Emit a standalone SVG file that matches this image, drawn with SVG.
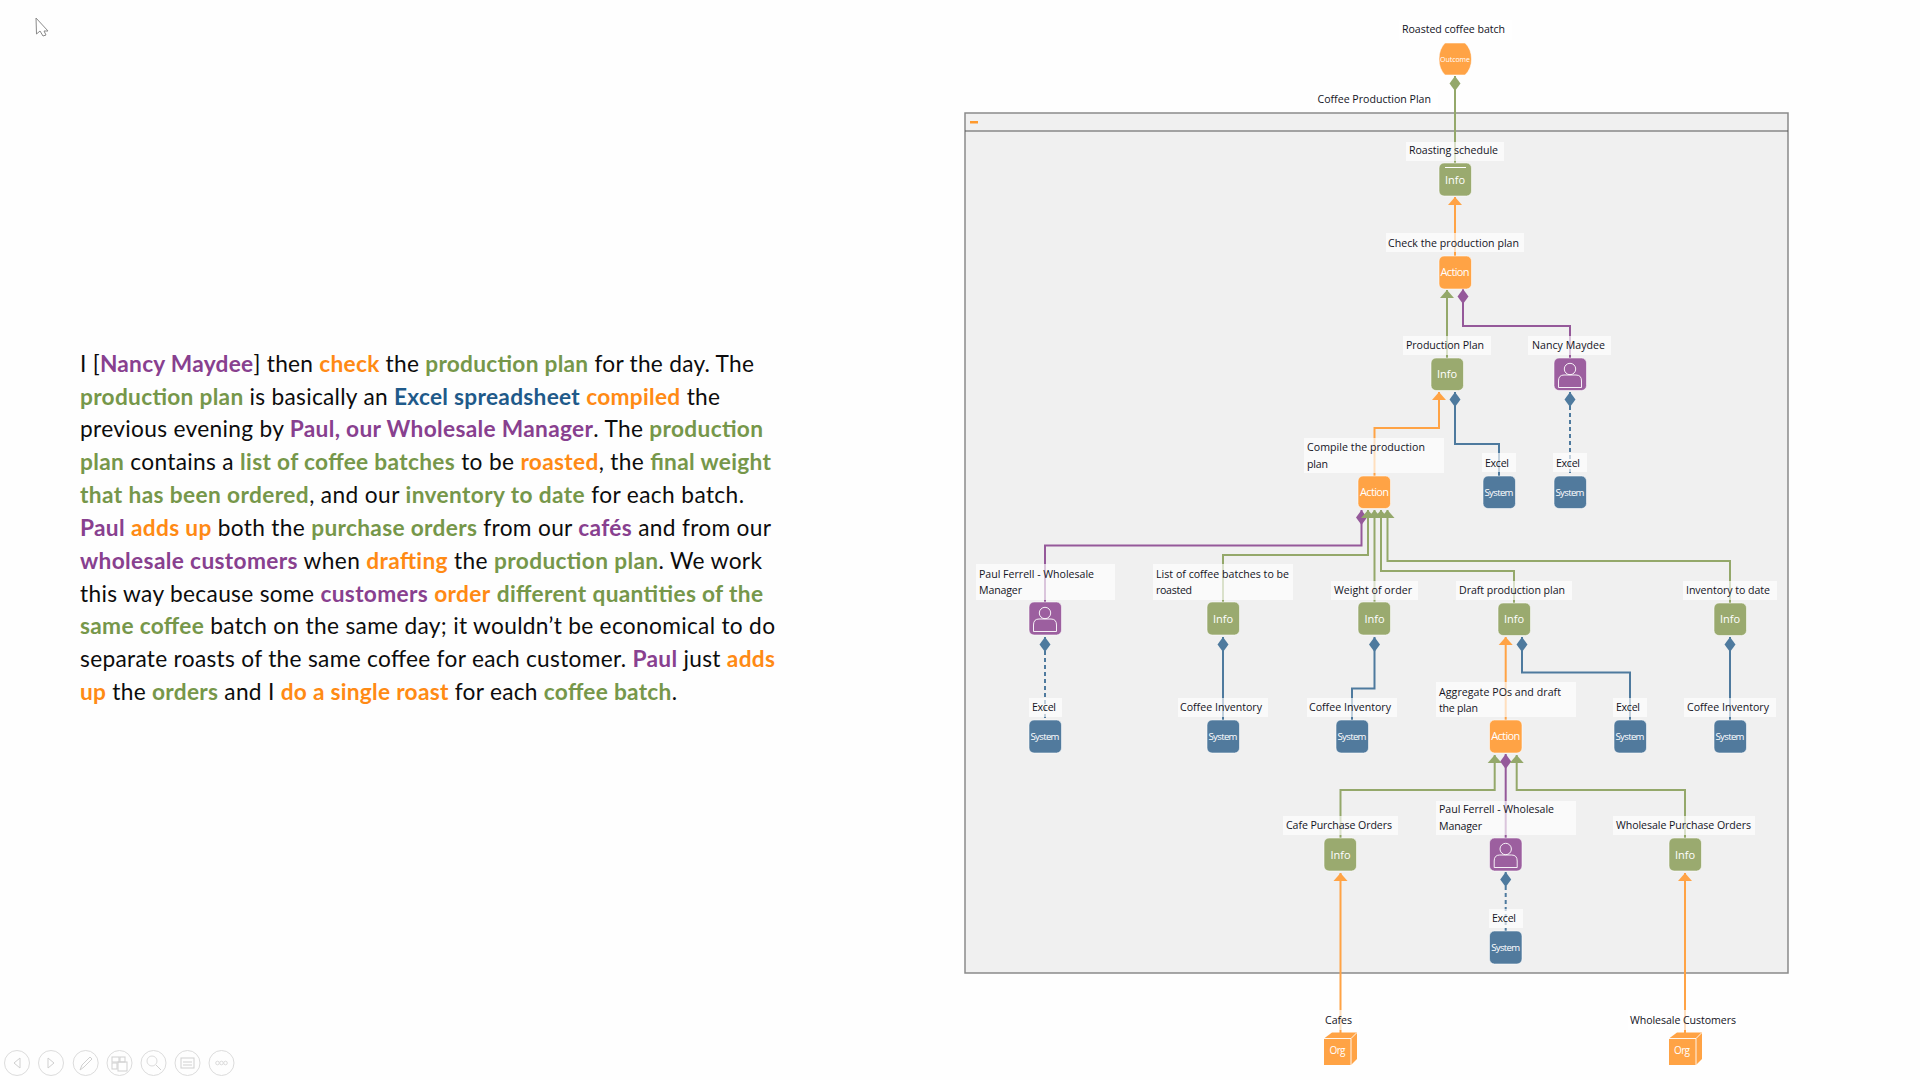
<svg xmlns="http://www.w3.org/2000/svg" width="1920" height="1080" viewBox="0 0 1920 1080">
<style>
.p{font-family:Lato,"Open Sans","Liberation Sans",sans-serif;font-size:22.7px;fill:#0c0c0c}
.p tspan{font-weight:700}
.or{fill:#FF8A14}.gr{fill:#76974A}.pu{fill:#88408F}.bl{fill:#1F5A8A}
.lb{fill:#fff;fill-opacity:.65}
.t{font-family:"Open Sans","Noto Sans","Liberation Sans",sans-serif;font-size:10.6px;fill:#14141e}
.n{font-family:"Open Sans","Noto Sans","Liberation Sans",sans-serif;font-size:11px;fill:#fff;text-anchor:middle}
.s{font-size:9.6px}.u{font-size:7px}.g{font-size:10px}
.box{stroke:#fff;stroke-opacity:.7;stroke-width:.8}
.A{fill:#FFA345}.I{fill:#9AAA6F}.P{fill:#9C5F9F}.S{fill:#517A9D}
.ic{fill:none;stroke:#fff;stroke-opacity:.9;stroke-width:1}
.c{fill:none;stroke-width:2}
.co{stroke:#FFA345}.cg{stroke:#94A86A}.cp{stroke:#95599A}.cb{stroke:#4E7A9E}
.d{stroke-dasharray:4 3}
.tb circle{fill:none;stroke:#dcdcdc;stroke-width:1}
.tb path,.tb rect{fill:none;stroke:#d0d0d0;stroke-width:1}
</style>
<defs>
<marker id="ao" markerUnits="userSpaceOnUse" orient="auto" markerWidth="10" markerHeight="16" refX="0" refY="8" viewBox="0 0 10 16"><path d="M0,8L8,1V15Z" fill="#FFA345"/></marker>
<marker id="ag" markerUnits="userSpaceOnUse" orient="auto" markerWidth="10" markerHeight="16" refX="0" refY="8" viewBox="0 0 10 16"><path d="M0,8L8,1V15Z" fill="#94A86A"/></marker>
<marker id="dg" markerUnits="userSpaceOnUse" orient="auto" markerWidth="16" markerHeight="12" refX="0" refY="6" viewBox="0 0 16 12"><path d="M0,6L7.500,.5L15,6L7.500,11.500Z" fill="#94A86A"/></marker>
<marker id="dp" markerUnits="userSpaceOnUse" orient="auto" markerWidth="16" markerHeight="12" refX="0" refY="6" viewBox="0 0 16 12"><path d="M0,6L7.500,.5L15,6L7.500,11.500Z" fill="#95599A"/></marker>
<marker id="db" markerUnits="userSpaceOnUse" orient="auto" markerWidth="16" markerHeight="12" refX="0" refY="6" viewBox="0 0 16 12"><path d="M0,6L7.500,.5L15,6L7.500,11.500Z" fill="#4E7A9E"/></marker>
</defs>
<rect width="1920" height="1080" fill="#fefefe"/>
<path d="M36,18L48,31H44L46,35L43,36L40,31L36.500,34Z" fill="#fff" stroke="#8a8a8a" stroke-width="1"/>

<g id="narrative">
<text class="p" y="372" x="80" textLength="674">I [<tspan class="pu">Nancy Maydee</tspan>] then <tspan class="or">check</tspan> the <tspan class="gr">production plan</tspan> for the day. The</text>
<text class="p" y="404.800" x="80" textLength="640"><tspan class="gr">production plan</tspan> is basically an <tspan class="bl">Excel spreadsheet</tspan> <tspan class="or">compiled</tspan> the</text>
<text class="p" y="437.200" x="80" textLength="683">previous evening by <tspan class="pu">Paul, our Wholesale Manager</tspan>. The <tspan class="gr">production</tspan></text>
<text class="p" y="470.400" x="80" textLength="691"><tspan class="gr">plan</tspan> contains a <tspan class="gr">list of coffee batches</tspan> to be <tspan class="or">roasted</tspan>, the <tspan class="gr">final weight</tspan></text>
<text class="p" y="503.200" x="80" textLength="664"><tspan class="gr">that has been ordered</tspan>, and our <tspan class="gr">inventory to date</tspan> for each batch.</text>
<text class="p" y="535.600" x="80" textLength="691"><tspan class="pu">Paul</tspan> <tspan class="or">adds up</tspan> both the <tspan class="gr">purchase orders</tspan> from our <tspan class="pu">cafés</tspan> and from our</text>
<text class="p" y="568.500" x="80" textLength="682"><tspan class="pu">wholesale customers</tspan> when <tspan class="or">drafting</tspan> the <tspan class="gr">production plan</tspan>. We work</text>
<text class="p" y="601.600" x="80" textLength="683">this way because some <tspan class="pu">customers</tspan> <tspan class="or">order</tspan> <tspan class="gr">different quantities of the</tspan></text>
<text class="p" y="634.400" x="80" textLength="695"><tspan class="gr">same coffee</tspan> batch on the same day; it wouldn’t be economical to do</text>
<text class="p" y="667.200" x="80" textLength="695">separate roasts of the same coffee for each customer. <tspan class="pu">Paul</tspan> just <tspan class="or">adds</tspan></text>
<text class="p" y="700" x="80" textLength="597"><tspan class="or">up</tspan> the <tspan class="gr">orders</tspan> and I <tspan class="or">do a single roast</tspan> for each <tspan class="gr">coffee batch</tspan>.</text>
</g>

<g id="frame">
<rect x="965" y="113" width="823" height="860" fill="#F0F0F0" stroke="#8a8a8a" stroke-width="1.500"/>
<path d="M965,131H1788" stroke="#555" stroke-width="1.200"/>
<rect x="970" y="121" width="8" height="2.500" fill="#FF9A2E"/>
</g>

<g id="connectors">
<path class="c cg" marker-start="url(#dg)" d="M1455,76V163"/>
<path class="c co" marker-start="url(#ao)" d="M1455,197V256"/>
<path class="c cg" marker-start="url(#ag)" d="M1447,290V358"/>
<path class="c cp" marker-start="url(#dp)" d="M1463,289V326H1570V358"/>
<path class="c co" marker-start="url(#ao)" d="M1439,392V428H1374.500V476"/>
<path class="c cb" marker-start="url(#db)" d="M1455,392V444H1499V476"/>
<path class="c cb d" marker-start="url(#db)" d="M1570,392V476"/>
<path class="c cp" marker-start="url(#dp)" d="M1361.500,510V545.500H1045V602"/>
<path class="c cg" marker-start="url(#ag)" d="M1368,510V555H1223V602"/>
<path class="c cg" marker-start="url(#ag)" d="M1374.500,510V602"/>
<path class="c cg" marker-start="url(#ag)" d="M1381,510V571H1514V603"/>
<path class="c cg" marker-start="url(#ag)" d="M1387.500,510V561H1730V603"/>
<path class="c cb d" marker-start="url(#db)" d="M1045,637V720"/>
<path class="c cb" marker-start="url(#db)" d="M1223,637V720"/>
<path class="c cb" marker-start="url(#db)" d="M1374.500,637V688.500H1352V720"/>
<path class="c co" marker-start="url(#ao)" d="M1505.700,637V720"/>
<path class="c cb" marker-start="url(#db)" d="M1522,637V672.500H1630V720"/>
<path class="c cb" marker-start="url(#db)" d="M1730,637V720"/>
<path class="c cg" marker-start="url(#ag)" d="M1494.700,755V790H1340.500V838"/>
<path class="c cp" marker-start="url(#dp)" d="M1505.700,754V838"/>
<path class="c cg" marker-start="url(#ag)" d="M1516.700,755V790H1685V838"/>
<path class="c cb d" marker-start="url(#db)" d="M1505.700,872V931"/>
<path class="c co" marker-start="url(#ao)" d="M1340.500,873V1034"/>
<path class="c co" marker-start="url(#ao)" d="M1685,873V1034"/>
</g>

<g id="n-outcome"><rect class="lb" x="1399" y="20" width="113" height="20"/><text class="t" x="1402" y="33" textLength="103">Roasted coffee batch</text><path class="box A" d="M1445,43H1465Q1471.500,49 1471.500,59Q1471.500,69 1465,75H1445Q1439,69 1439,59Q1439,49 1445,43Z"/><text class="n u" x="1455" y="61.500" textLength="30">Outcome</text></g>
<g id="n-cpp"><rect class="lb" x="1315" y="90" width="123" height="20"/><text class="t" x="1317.500" y="103" textLength="113.500">Coffee Production Plan</text></g>
<g id="n-roasting"><rect class="lb" x="1406" y="142" width="98" height="19"/><text class="t" x="1409" y="154" textLength="89">Roasting schedule</text><rect class="box I" x="1439" y="163" width="32.500" height="33" rx="5"/><path d="M1445,167.500H1466" stroke="#fff" stroke-width="1"/><text class="n" x="1455" y="184" textLength="20">Info</text></g>
<g id="n-check"><rect class="lb" x="1386" y="233" width="138" height="19"/><text class="t" x="1388" y="247" textLength="131">Check the production plan</text><rect class="box A" x="1439" y="256" width="32.500" height="33" rx="5"/><text class="n" x="1455" y="276" textLength="29">Action</text></g>
<g id="n-prodplan"><rect class="lb" x="1403" y="336" width="88" height="19"/><text class="t" x="1406" y="349" textLength="78">Production Plan</text><rect class="box I" x="1431" y="358" width="32.500" height="32.500" rx="5"/><text class="n" x="1447" y="378" textLength="20">Info</text></g>
<g id="n-nancy"><rect class="lb" x="1528" y="336" width="83" height="19"/><text class="t" x="1532" y="349" textLength="73">Nancy Maydee</text><rect class="box P" x="1554" y="358" width="32.500" height="32.500" rx="5"/><g transform="translate(1570,358)"><circle class="ic" cx="0" cy="11" r="5.700"/><path class="ic" d="M-11.500,29.500V23Q-11.500,17 -6,17H6Q11.500,17 11.500,23V29.500Z"/></g></g>
<g id="n-compile"><rect class="lb" x="1304" y="438" width="140" height="35"/><text class="t" x="1307" y="451" textLength="118">Compile the production</text><text class="t" x="1307" y="468" textLength="21">plan</text><rect class="box A" x="1358" y="476" width="32.500" height="32.500" rx="5"/><text class="n" x="1374.500" y="496" textLength="29">Action</text></g>
<g id="n-excel1"><rect class="lb" x="1482" y="453" width="34" height="19"/><text class="t" x="1485" y="467" textLength="24">Excel</text><rect class="box S" x="1483" y="476" width="32.500" height="32.500" rx="5"/><text class="n s" x="1499" y="495.500" textLength="29">System</text></g>
<g id="n-excel2"><rect class="lb" x="1553" y="453" width="34" height="19"/><text class="t" x="1556" y="467" textLength="24">Excel</text><rect class="box S" x="1554" y="476" width="32.500" height="32.500" rx="5"/><text class="n s" x="1570" y="495.500" textLength="29">System</text></g>
<g id="n-paul1"><rect class="lb" x="976" y="564" width="139" height="36"/><text class="t" x="979" y="578" textLength="115">Paul Ferrell - Wholesale</text><text class="t" x="979" y="594" textLength="43">Manager</text><rect class="box P" x="1029" y="602" width="32.500" height="33" rx="5"/><g transform="translate(1045,602)"><circle class="ic" cx="0" cy="11" r="5.700"/><path class="ic" d="M-11.500,29.500V23Q-11.500,17 -6,17H6Q11.500,17 11.500,23V29.500Z"/></g></g>
<g id="n-list"><rect class="lb" x="1153" y="564" width="140" height="36"/><text class="t" x="1156" y="578" textLength="133">List of coffee batches to be</text><text class="t" x="1156" y="594" textLength="36">roasted</text><rect class="box I" x="1207" y="602" width="32.500" height="33" rx="5"/><text class="n" x="1223" y="623" textLength="20">Info</text></g>
<g id="n-weight"><rect class="lb" x="1331" y="581" width="87" height="19"/><text class="t" x="1334" y="593.500" textLength="78">Weight of order</text><rect class="box I" x="1358" y="602" width="32.500" height="33" rx="5"/><text class="n" x="1374.500" y="623" textLength="20">Info</text></g>
<g id="n-draft"><rect class="lb" x="1456" y="581" width="116" height="19"/><text class="t" x="1459" y="593.500" textLength="106">Draft production plan</text><rect class="box I" x="1498" y="603" width="32.500" height="32.500" rx="5"/><text class="n" x="1514" y="623" textLength="20">Info</text></g>
<g id="n-inv"><rect class="lb" x="1683" y="581" width="94" height="19"/><text class="t" x="1686" y="593.500" textLength="84">Inventory to date</text><rect class="box I" x="1714" y="603" width="32.500" height="32.500" rx="5"/><text class="n" x="1730" y="623" textLength="20">Info</text></g>
<g id="n-excel3"><rect class="lb" x="1029" y="698" width="33" height="19"/><text class="t" x="1032" y="711" textLength="24">Excel</text><rect class="box S" x="1029" y="720" width="32.500" height="33" rx="5"/><text class="n s" x="1045" y="740" textLength="29">System</text></g>
<g id="n-ci1"><rect class="lb" x="1178" y="698" width="90" height="19"/><text class="t" x="1180" y="711" textLength="82">Coffee Inventory</text><rect class="box S" x="1207" y="720" width="32.500" height="33" rx="5"/><text class="n s" x="1223" y="740" textLength="29">System</text></g>
<g id="n-ci2"><rect class="lb" x="1307" y="698" width="90" height="19"/><text class="t" x="1309" y="711" textLength="82">Coffee Inventory</text><rect class="box S" x="1336" y="720" width="32.500" height="33" rx="5"/><text class="n s" x="1352" y="740" textLength="29">System</text></g>
<g id="n-agg"><rect class="lb" x="1436" y="682" width="140" height="35"/><text class="t" x="1439" y="696" textLength="122">Aggregate POs and draft</text><text class="t" x="1439" y="712" textLength="39">the plan</text><rect class="box A" x="1489.500" y="720" width="32.500" height="33" rx="5"/><text class="n" x="1505.700" y="740" textLength="29">Action</text></g>
<g id="n-excel4"><rect class="lb" x="1613" y="698" width="34" height="19"/><text class="t" x="1616" y="711" textLength="24">Excel</text><rect class="box S" x="1614" y="720" width="32.500" height="33" rx="5"/><text class="n s" x="1630" y="740" textLength="29">System</text></g>
<g id="n-ci3"><rect class="lb" x="1684" y="698" width="92" height="19"/><text class="t" x="1687" y="711" textLength="82">Coffee Inventory</text><rect class="box S" x="1714" y="720" width="32.500" height="33" rx="5"/><text class="n s" x="1730" y="740" textLength="29">System</text></g>
<g id="n-cafepo"><rect class="lb" x="1283" y="816" width="115" height="19"/><text class="t" x="1286" y="829" textLength="106">Cafe Purchase Orders</text><rect class="box I" x="1324" y="838" width="32.500" height="33" rx="5"/><text class="n" x="1340.500" y="859" textLength="20">Info</text></g>
<g id="n-paul2"><rect class="lb" x="1436" y="801" width="140" height="34"/><text class="t" x="1439" y="813" textLength="115">Paul Ferrell - Wholesale</text><text class="t" x="1439" y="830" textLength="43">Manager</text><rect class="box P" x="1489.500" y="838" width="32.500" height="33" rx="5"/><g transform="translate(1505.700,838)"><circle class="ic" cx="0" cy="11" r="5.700"/><path class="ic" d="M-11.500,29.500V23Q-11.500,17 -6,17H6Q11.500,17 11.500,23V29.500Z"/></g></g>
<g id="n-wpo"><rect class="lb" x="1613" y="816" width="142" height="19"/><text class="t" x="1616" y="829" textLength="135">Wholesale Purchase Orders</text><rect class="box I" x="1669" y="838" width="32.500" height="33" rx="5"/><text class="n" x="1685" y="859" textLength="20">Info</text></g>
<g id="n-excel5"><rect class="lb" x="1489" y="909" width="34" height="19"/><text class="t" x="1492" y="922" textLength="24">Excel</text><rect class="box S" x="1489.500" y="931" width="32.500" height="33" rx="5"/><text class="n s" x="1505.700" y="951" textLength="29">System</text></g>
<g id="n-cafes"><rect class="lb" x="1323" y="1010" width="36" height="20"/><text class="t" x="1325" y="1023.500" textLength="27">Cafes</text><path class="A" d="M1324,1038.500L1332,1032.500H1357V1059L1351,1065H1324Z"/><path d="M1324,1038.500H1351L1357,1032.500M1351,1038.500V1065" fill="none" stroke="#fff" stroke-width=".9"/><text class="n g" x="1337.500" y="1054" textLength="16">Org</text></g>
<g id="n-wc"><rect class="lb" x="1628" y="1010" width="110" height="20"/><text class="t" x="1630" y="1023.500" textLength="106">Wholesale Customers</text><path class="A" d="M1669,1038.500L1677,1032.500H1702V1059L1696,1065H1669Z"/><path d="M1669,1038.500H1696L1702,1032.500M1696,1038.500V1065" fill="none" stroke="#fff" stroke-width=".9"/><text class="n g" x="1682" y="1054" textLength="16">Org</text></g>

<g class="tb" id="toolbar">
<circle cx="17" cy="1063" r="12.500"/><path d="M20,1058L14,1063L20,1068Z"/>
<circle cx="51" cy="1063" r="12.500"/><path d="M48,1058L54,1063L48,1068Z"/>
<circle cx="85.700" cy="1063" r="12.500"/><path d="M80,1070L82,1065L90,1057L92,1059L84,1067Z"/>
<circle cx="119.500" cy="1063" r="12.500"/><rect x="112" y="1057" width="7" height="5"/><rect x="120" y="1057" width="5" height="5"/><rect x="112" y="1063" width="5" height="6"/><rect x="118" y="1062" width="9" height="9"/>
<circle cx="153.500" cy="1063" r="12.500"/><circle cx="152" cy="1061" r="5"/><path d="M156,1065L161,1070"/>
<circle cx="187.500" cy="1063" r="12.500"/><rect x="181" y="1058" width="13" height="10"/><path d="M183,1062H192M183,1065H192"/>
<circle cx="221.500" cy="1063" r="12.500"/><circle cx="217.500" cy="1063" r="1.800"/><circle cx="221.500" cy="1063" r="1.800"/><circle cx="225.500" cy="1063" r="1.800"/>
</g>
</svg>
